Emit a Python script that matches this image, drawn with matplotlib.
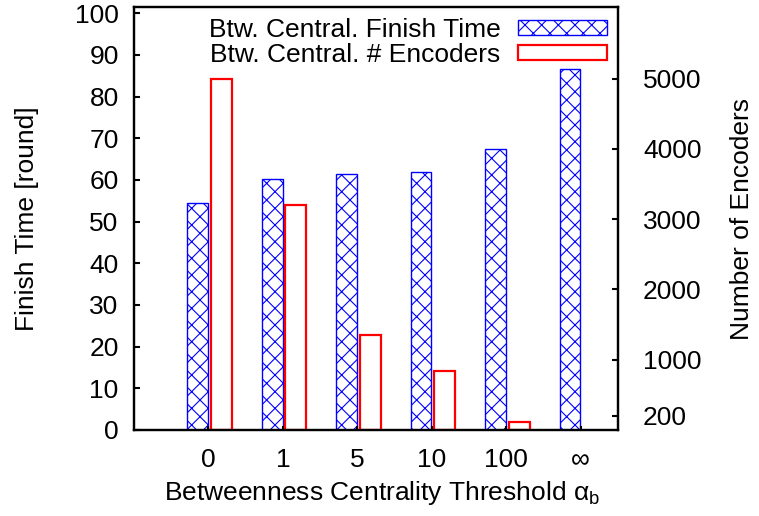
import matplotlib
matplotlib.use("Agg")
import matplotlib.pyplot as plt
import numpy as np

plt.rcParams['font.family'] = ['Liberation Sans', 'DejaVu Sans']
plt.rcParams['font.size'] = 19
plt.rcParams['hatch.linewidth'] = 0.8
plt.rcParams['hatch.color'] = 'blue'

# data
thresholds = ['0', '1', '5', '10', '100', '∞']
finish_time = [54.5, 60.3, 61.4, 62.0, 67.4, 86.6]
num_encoders = [5000, 3200, 1350, 840, 115]   # no bar at infinity

fig = plt.figure(figsize=(7.59, 5.16), dpi=100)
ax = fig.add_axes([0.1765, 0.1667, 0.6377, 0.8197])
ax2 = ax.twinx()

x = np.arange(len(thresholds))
w = 0.28
b1 = ax.bar(x - 0.145, finish_time, w, facecolor='white', edgecolor='blue',
            hatch='xx', linewidth=1.0, label='Btw. Central. Finish Time')
b2 = ax2.bar(x[:len(num_encoders)] + 0.175, num_encoders, w, facecolor='none',
             edgecolor='red', linewidth=1.6, label='Btw. Central. # Encoders')

ax.set_xlim(-1, 5.5)
ax.set_ylim(0, 101.5)
ax2.set_ylim(0, 6020)
ax.set_xticks(x)
ax.set_xticklabels(thresholds)
ax.set_yticks(np.arange(0, 101, 10))
ax2.set_yticks([200, 1000, 2000, 3000, 4000, 5000])

for a in (ax, ax2):
    for s in a.spines.values():
        s.set_linewidth(1.6)
ax.tick_params(axis='y', direction='in', length=4, width=1.5, pad=11)
ax.tick_params(axis='x', direction='in', length=3, width=1.5, pad=13)
ax2.tick_params(axis='y', direction='in', length=4, width=1.5, pad=18)

ax.set_ylabel('Finish Time [round]')
ax.yaxis.set_label_coords(-0.196, 0.5)
ax2.set_ylabel('Number of Encoders', rotation=90)
ax2.yaxis.set_label_coords(1.232, 0.5)
ax.set_xlabel('Betweenness Centrality Threshold α$_\\mathregular{b}$')
ax.xaxis.set_label_coords(0.512, -0.115)

leg = ax2.legend([b1, b2], [b1.get_label(), b2.get_label()], loc='upper right',
                 frameon=False, markerfirst=False, handlelength=3.37,
                 handleheight=0.49, labelspacing=0.04, handletextpad=0.68,
                 borderaxespad=0.2, borderpad=0.2)

fig.savefig('out.png', dpi=100)
